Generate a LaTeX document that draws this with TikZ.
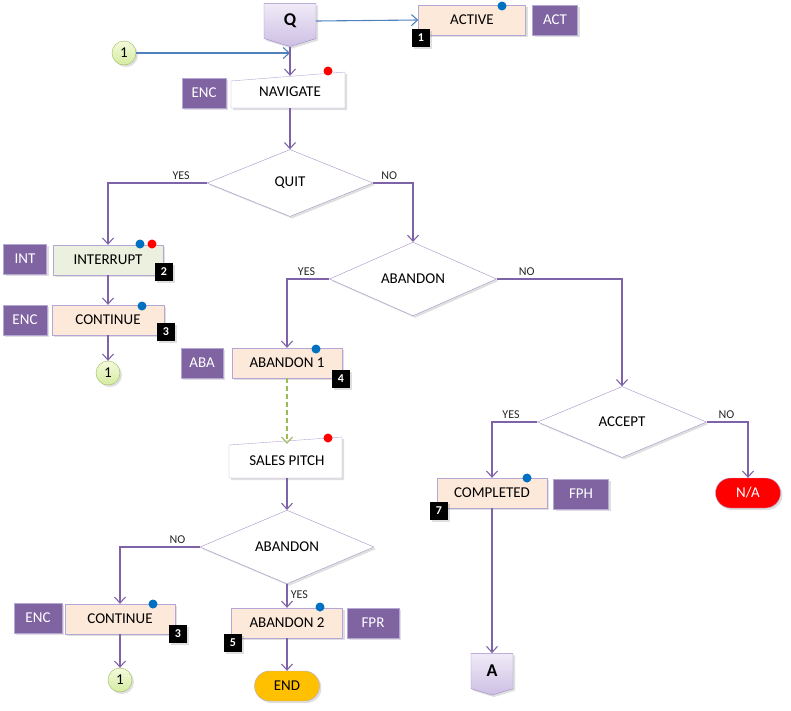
\documentclass[tikz,border=0pt]{standalone}
\usepackage{fontspec}
\setmainfont{Carlito}
\usetikzlibrary{shapes.geometric,shapes.symbols,shapes.misc,arrows.meta,shadows}

\definecolor{flowc}{HTML}{7F63A8}
\definecolor{linkc}{HTML}{4F81BD}
\definecolor{dashc}{HTML}{9BBB59}
\definecolor{edgec}{HTML}{B4A7D6}
\definecolor{peach}{HTML}{FDE9D9}
\definecolor{sage}{HTML}{EBF1DE}
\definecolor{tagc}{HTML}{8064A2}
\definecolor{dotblue}{HTML}{0070C0}
\definecolor{contop}{HTML}{F4FADC}
\definecolor{conbot}{HTML}{D5EBA0}
\definecolor{offtop}{HTML}{F0EBF8}
\definecolor{offbot}{HTML}{CDBFE3}
\definecolor{offedge}{HTML}{9F8AC6}
\definecolor{endc}{HTML}{FFC000}

\begin{document}
\begin{tikzpicture}[x=1pt,y=-1pt,font=\fontsize{15}{17}\selectfont,
	shade/.style={drop shadow={opacity=0.25,shadow xshift=2pt,shadow yshift=-2pt}},
	box/.style={draw=edgec,fill=peach,minimum width=110pt,minimum height=30pt,inner sep=0pt,shade},
	slant/.style={draw=edgec,fill=white,shade},
	tag/.style={draw=edgec,fill=tagc,text=white,minimum height=30pt,inner sep=0pt,shade},
	badge/.style={fill=black,text=white,font=\bfseries\fontsize{12}{13}\selectfont,minimum size=18pt,inner sep=0pt,shade},
	dotb/.style={circle,fill=dotblue,minimum size=9pt,inner sep=0pt},
	dotr/.style={circle,fill=red,minimum size=9pt,inner sep=0pt},
	decision/.style={diamond,draw=flowc!70,fill=white,inner sep=0pt,shade},
	conn/.style={circle,draw=dashc,top color=contop,bottom color=conbot,minimum size=24pt,inner sep=0pt,shade},
	offpage/.style={signal,signal to=south,signal pointer angle=146,draw=offedge,top color=offtop,bottom color=offbot,font=\bfseries\fontsize{18}{19}\selectfont,inner sep=0pt,shade},
	term/.style={rounded rectangle,draw=edgec,minimum width=65pt,minimum height=30pt,inner sep=0pt,shade},
	flow/.style={draw=flowc,line width=1.1pt,-{Straight Barb[length=6pt,width=11pt]}},
	link/.style={flow,draw=linkc},
	lbl/.style={font=\fontsize{12}{13}\selectfont,text=black!85}]
	\useasboundingbox (0,0) rectangle (791,710);

	% top
	\node[offpage,minimum width=52pt,minimum height=37pt] (q) at (290,21) {Q};
	\node[box,minimum width=107pt] (act) at (472,20) {ACTIVE};
	\node[tag,minimum width=45pt] (actTag) at (555,20) {ACT};
	\node[badge] (n1) at (421,38) {1};
	\node[dotb] (actDot) at (502,6) {};
	\node[conn] (c1) at (124,53) {1};
	\coordinate (j1) at (290,53);

	\draw[slant] (231,108) -- (231,81) -- (345,72) -- (345,108) -- cycle;
	\node[minimum width=114pt,minimum height=32pt] (nav) at (290,92) {NAVIGATE};
	\node[tag,minimum width=44pt] (navTag) at (204,93) {ENC};
	\node[dotr] (navDot) at (328,71) {};

	\node[decision,minimum width=166pt,minimum height=67pt] (quit) at (290,183) {QUIT};

	% left column
	\node[box,fill=sage] (int) at (108,260) {INTERRUPT};
	\node[tag,minimum width=43pt] (intTag) at (25,259) {INT};
	\node[dotb] (intDot) at (140,244) {};
	\node[dotr] (intDot2) at (152,244) {};
	\node[badge] (n2) at (164,272) {2};

	\node[box,minimum width=112pt] (cont) at (108,320) {CONTINUE};
	\node[tag,minimum width=44pt] (contTag) at (25,320) {ENC};
	\node[dotb] (contDot) at (142,306) {};
	\node[badge] (n3) at (166,332) {3};
	\node[conn] (c2) at (108,373) {1};

	% middle
	\node[decision,minimum width=167pt,minimum height=68pt] (aban) at (413,279) {ABANDON};
	\node[box] (ab1) at (287,363) {ABANDON 1};
	\node[tag,minimum width=42pt] (ab1Tag) at (202,363) {ABA};
	\node[dotb] (ab1Dot) at (316,349) {};
	\node[badge] (n4) at (341,379) {4};

	\draw[slant] (229,478) -- (229,445) -- (342,437) -- (342,478) -- cycle;
	\node[minimum width=113pt,minimum height=34pt] (sales) at (287,461) {SALES PITCH};
	\node[dotr] (salesDot) at (328,438) {};

	\node[decision,minimum width=174pt,minimum height=70pt] (aban2) at (287,547) {ABANDON};

	\node[box] (cont2) at (120,619) {CONTINUE};
	\node[tag,minimum width=48pt] (cont2Tag) at (38,618) {ENC};
	\node[dotb] (cont2Dot) at (153,604) {};
	\node[badge] (n3b) at (178,634) {3};
	\node[conn] (c3) at (120,680) {1};

	\node[box,minimum width=111pt] (ab2) at (287,623) {ABANDON 2};
	\node[tag,minimum width=52pt] (ab2Tag) at (373,623) {FPR};
	\node[dotb] (ab2Dot) at (320,607) {};
	\node[badge] (n5) at (233,643) {5};
	\node[term,fill=endc] (end) at (287,686) {END};

	% right
	\node[decision,minimum width=169pt,minimum height=71pt] (acc) at (622,422) {ACCEPT};
	\node[box] (comp) at (492,493) {COMPLETED};
	\node[tag,minimum width=55pt] (compTag) at (581,494) {FPH};
	\node[dotb] (compDot) at (527,478) {};
	\node[badge] (n7) at (439,511) {7};
	\node[term,fill=red,text=white] (na) at (748,493) {N/A};
	\node[offpage,minimum width=42pt,minimum height=37pt] (a) at (492,671) {A};

	% connectors
	\draw[link] (q.east) -- (act.west);
	\draw[link] (c1) -- (j1);
	\draw[flow] (q.south) -- (nav.north);
	\draw[flow] (nav.south) -- (quit.north);
	\draw[flow] (quit.west) -| node[lbl,above,pos=0.13] {YES} (int.north);
	\draw[flow] (quit.east) -| node[lbl,above,pos=0.2] {NO} (aban.north);
	\draw[flow] (int.south) -- (cont.north);
	\draw[flow] (cont.south) -- (c2.north);
	\draw[flow] (aban.west) -| node[lbl,above,pos=0.27] {YES} (ab1.north);
	\draw[flow] (aban.east) -| node[lbl,above,pos=0.12] {NO} (acc.north);
	\draw[flow,draw=dashc,dash pattern=on 5pt off 3pt] (ab1.south) -- (sales.north);
	\draw[flow] (sales.south) -- (aban2.north);
	\draw[flow] (aban2.west) -| node[lbl,above,pos=0.14] {NO} (cont2.north);
	\draw[flow] (aban2.south) -- node[lbl,right,pos=0.45] {YES} (ab2.north);
	\draw[flow] (cont2.south) -- (c3.north);
	\draw[flow] (ab2.south) -- (end.north);
	\draw[flow] (acc.west) -| node[lbl,above,pos=0.29] {YES} (comp.north);
	\draw[flow] (acc.east) -| node[lbl,above,pos=0.24] {NO} (na.north);
	\draw[flow] (comp.south) -- (a.north);
\end{tikzpicture}
\end{document}
